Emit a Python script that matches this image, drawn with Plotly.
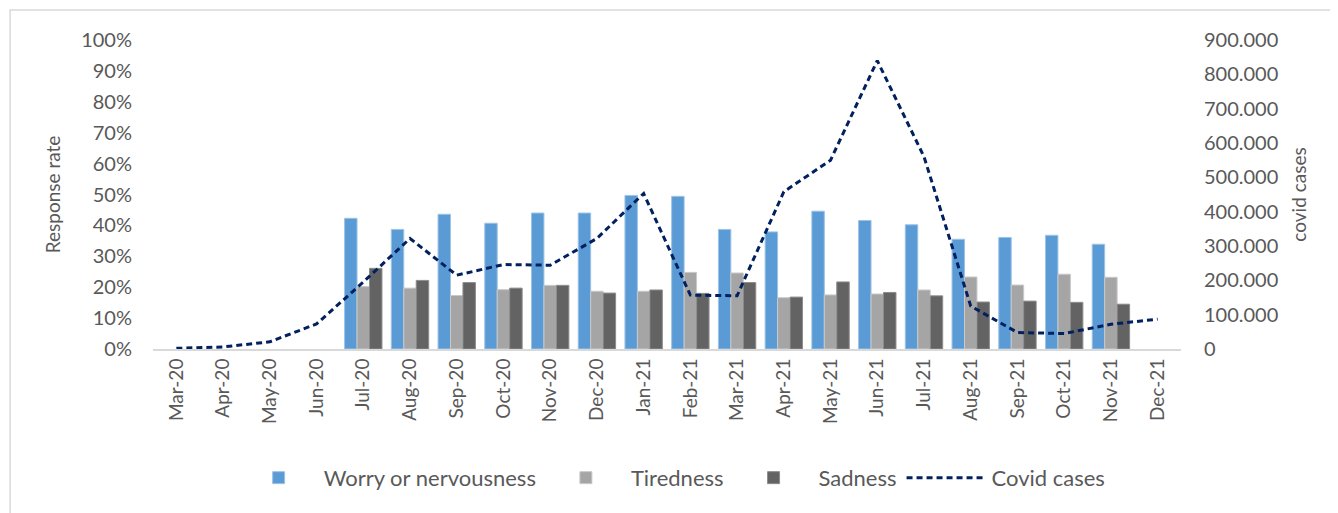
"""
Response rate (bars) vs. covid cases (dashed line), Mar-20 .. Dec-21.
"""
import plotly.graph_objects as go
from plotly.subplots import make_subplots

months = ['Mar-20', 'Apr-20', 'May-20', 'Jun-20', 'Jul-20', 'Aug-20', 'Sep-20',
          'Oct-20', 'Nov-20', 'Dec-20', 'Jan-21', 'Feb-21', 'Mar-21', 'Apr-21',
          'May-21', 'Jun-21', 'Jul-21', 'Aug-21', 'Sep-21', 'Oct-21', 'Nov-21',
          'Dec-21']

# Anteile (0..1), keine Umfrage vor Jul-20 und im Dez-21
worry = [None, None, None, None, 0.423, 0.387, 0.436, 0.407, 0.440, 0.440,
         0.497, 0.494, 0.387, 0.379, 0.446, 0.416, 0.402, 0.355, 0.361,
         0.368, 0.339, None]
tiredness = [None, None, None, None, 0.202, 0.197, 0.173, 0.192, 0.206, 0.187,
             0.187, 0.248, 0.246, 0.166, 0.175, 0.178, 0.191, 0.233, 0.207,
             0.242, 0.232, None]
sadness = [None, None, None, None, 0.261, 0.222, 0.215, 0.197, 0.206, 0.181,
           0.191, 0.180, 0.215, 0.168, 0.217, 0.183, 0.172, 0.152, 0.155,
           0.151, 0.145, None]
covid_cases = [2000, 6000, 21000, 73000, 195000, 322000, 215000, 246000,
               244000, 322000, 453000, 157000, 155000, 458000, 550000, 840000,
               560000, 125000, 48000, 45000, 72000, 87000]

FONT = 'Lato'
GREY_TXT = '#595959'

fig = make_subplots(specs=[[{'secondary_y': True}]])

fig.add_trace(go.Bar(name='Worry or nervousness', x=months, y=worry,
                     marker=dict(color='#5B9BD5', line=dict(color='#9DC3E6', width=1))),
              secondary_y=False)
fig.add_trace(go.Bar(name='Tiredness', x=months, y=tiredness,
                     marker=dict(color='#A5A5A5', line=dict(color='#C9C9C9', width=1))),
              secondary_y=False)
fig.add_trace(go.Bar(name='Sadness', x=months, y=sadness,
                     marker=dict(color='#636363', line=dict(color='#8C8C8C', width=1))),
              secondary_y=False)
fig.add_trace(go.Scatter(name='Covid cases', x=months, y=covid_cases,
                         mode='lines',
                         line=dict(color='#002060', width=3, dash='6px,4px')),
              secondary_y=True)

# Rahmen um die ganze Grafik (wie Excel-Chartbereich)
fig.add_shape(type='rect', xref='paper', yref='paper',
              x0=-0.139, x1=1.3, y0=-1.0, y1=1.097,
              line=dict(color='#D9D9D9', width=1.5), layer='below')

# Seite hat 8px body-margin -> Figur entsprechend kleiner
fig.update_layout(
    width=1330, height=505,
    margin=dict(l=145, r=157, t=32, b=164, autoexpand=False),
    paper_bgcolor='white', plot_bgcolor='white',
    font=dict(family=FONT, size=20, color=GREY_TXT),
    separators=',.',
    barmode='group', bargap=0.2, bargroupgap=0,
    showlegend=True,
    legend=dict(orientation='h', x=0.505, xanchor='center', y=-0.417,
                yanchor='middle', font=dict(size=22, color=GREY_TXT),
                itemwidth=80, traceorder='normal'),
)
fig.update_xaxes(domain=[0, 1], showgrid=False, tickangle=-90, ticks='',
                 automargin=False, showline=True, linecolor='#D9D9D9',
                 linewidth=2, tickfont=dict(size=19, color=GREY_TXT))
fig.update_yaxes(title_text='Response rate', range=[0, 1], dtick=0.1,
                 tickformat='.0%', showgrid=False, zeroline=False,
                 ticklabelstandoff=20, automargin=False,
                 tickfont=dict(size=20, color=GREY_TXT),
                 title_font=dict(size=19, color=GREY_TXT),
                 secondary_y=False)
fig.update_yaxes(title_text='covid cases', range=[0, 900000], dtick=100000,
                 tickformat=',.0f', showgrid=False, zeroline=False,
                 ticklabelstandoff=22, automargin=False,
                 tickfont=dict(size=20, color=GREY_TXT),
                 title_font=dict(size=19, color=GREY_TXT),
                 secondary_y=True)

fig.write_html('out.html')
